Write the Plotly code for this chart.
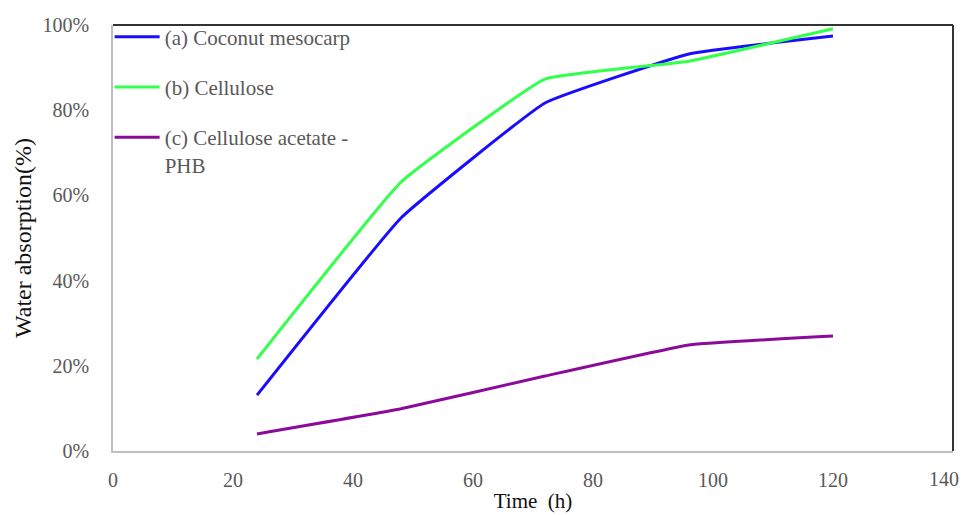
import plotly.graph_objects as go

time_h = [24, 48, 72, 96, 120]
coconut = [13.1, 54.7, 81.7, 93.2, 97.4]
cellulose = [21.6, 63.1, 87.3, 91.5, 99.1]
ca_phb = [4.0, 9.9, 17.6, 24.9, 27.0]

names = ["(a) Coconut mesocarp", "(b) Cellulose", "(c) Cellulose acetate -<br>PHB"]
colors = ["#1a0dff", "#33ff4d", "#8b0a9a"]
series = [coconut, cellulose, ca_phb]

x_ticks = [0, 20, 40, 60, 80, 100, 120, 140]
y_ticks = [0, 20, 40, 60, 80, 100]

fig = go.Figure()
for i, (name, col, vals) in enumerate(zip(names, colors, series)):
    fig.add_trace(go.Scatter(
        x=time_h, y=vals, name=name, mode="lines",
        line=dict(color=col, width=3, shape="spline", smoothing=0.3),
        legendgroup=f"g{i}",
    ))

serif = "Liberation Serif"
tick_font = dict(family=serif, size=20, color="#595959")
# last x tick label is placed as an annotation so it stays inside the page edge
x_ticktext = [str(v) for v in x_ticks[:-1]] + [""]

fig.update_layout(
    width=963, height=507,
    margin=dict(l=105, r=18, t=17, b=64, autoexpand=False),
    paper_bgcolor="white", plot_bgcolor="white",
    font=dict(family=serif, size=20, color="#595959"),
    showlegend=True,
    legend=dict(
        x=-0.004, y=1.02, xanchor="left", yanchor="top",
        bgcolor="rgba(0,0,0,0)",
        font=dict(family=serif, size=21, color="#595959"),
        traceorder="grouped", tracegroupgap=20,
        itemwidth=45, valign="top",
    ),
    xaxis=dict(
        range=[0, 140], tickvals=x_ticks, ticktext=x_ticktext,
        showgrid=False, zeroline=False, automargin=False,
        showline=True, linecolor="#bfbfbf", linewidth=1.5, mirror=False,
        ticks="", ticklabelstandoff=10,
        tickfont=tick_font,
        title=dict(text="Time  (h)", font=dict(family=serif, size=21, color="#111111"), standoff=4),
    ),
    yaxis=dict(
        range=[0, 100], tickvals=y_ticks, ticktext=[f"{v}%" for v in y_ticks],
        showgrid=False, zeroline=False, automargin=False,
        showline=True, linecolor="#bfbfbf", linewidth=1.5,
        ticks="", ticklabelstandoff=18,
        tickfont=tick_font,
        title=dict(text="Water absorption(%)", font=dict(family=serif, size=24, color="#111111"), standoff=4),
    ),
    annotations=[
        dict(text=str(x_ticks[-1]), x=x_ticks[-1], xref="x", y=0, yref="paper",
             xanchor="right", yanchor="top", xshift=8, yshift=-15,
             showarrow=False, font=tick_font),
    ],
    shapes=[
        dict(type="line", xref="paper", yref="paper", x0=0, x1=1, y0=1, y1=1,
             line=dict(color="#333333", width=2)),
        dict(type="line", xref="paper", yref="paper", x0=1, x1=1, y0=0, y1=1,
             line=dict(color="#333333", width=2)),
    ],
)

fig.write_html("out.html")
